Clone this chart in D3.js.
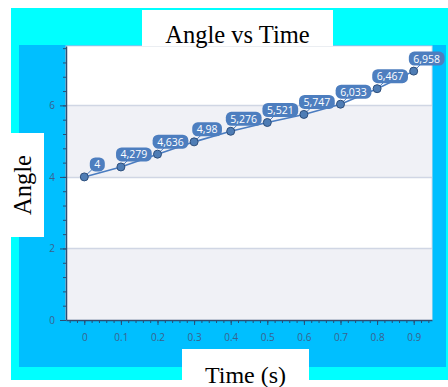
<!DOCTYPE html>
<html>
<head>
<meta charset="utf-8">
<script src="https://cdn.jsdelivr.net/npm/d3@7"></script>
<style>
  html, body { margin: 0; padding: 0; background: #ffffff; }
  svg { display: block; }
</style>
</head>
<body>
<svg id="chart" width="448" height="387"></svg>
<script>
// Measurements: angle over time
const times = [0, 0.1, 0.2, 0.3, 0.4, 0.5, 0.6, 0.7, 0.8, 0.9];
const angles = [4, 4.279, 4.636, 4.98, 5.276, 5.521, 5.747, 6.033, 6.467, 6.958];
const xTicks = [0, 0.1, 0.2, 0.3, 0.4, 0.5, 0.6, 0.7, 0.8, 0.9];
const yTicks = [0, 2, 4, 6];

const svg = d3.select("#chart");
const plot = { left: 66, right: 432, top: 46, bottom: 320 };

// frame backgrounds
svg.append("rect").attr("x", 11).attr("y", 8).attr("width", 437).attr("height", 372).attr("fill", "#00ffff");
svg.append("rect").attr("x", 19).attr("y", 45).attr("width", 427).attr("height", 322).attr("fill", "#00bfff");

const x = d3.scaleLinear().domain([-0.05, 0.95]).range([plot.left, plot.right]);
const y = d3.scaleLinear().domain([0, 7.66]).range([plot.bottom, plot.top]);

// plot area
svg.append("rect").attr("x", plot.left).attr("y", plot.top)
  .attr("width", plot.right - plot.left).attr("height", plot.bottom - plot.top)
  .attr("fill", "#ffffff").attr("stroke", "#d8dde6").attr("stroke-width", 1);

// alternating bands
const bands = [[0, 2], [4, 6]];
svg.append("g").selectAll("rect").data(bands).join("rect")
  .attr("x", plot.left + 0.5).attr("width", plot.right - plot.left - 1)
  .attr("y", d => y(d[1])).attr("height", d => y(d[0]) - y(d[1]))
  .attr("fill", "#f0f1f6");

// grid lines
svg.append("g").selectAll("line").data(yTicks.filter(v => v > 0)).join("line")
  .attr("x1", plot.left).attr("x2", plot.right)
  .attr("y1", d => Math.round(y(d)) + 0.5).attr("y2", d => Math.round(y(d)) + 0.5)
  .attr("stroke", "#d0d6e4").attr("stroke-width", 1.3);

const axisColor = "#2c4d73";
const labelColor = "#3a628e";
const tickFont = "'Open Sans', 'Noto Sans', sans-serif";

// minor ticks
const yMinor = d3.range(0, 7.66, 0.4);
svg.append("g").attr("transform", `translate(${plot.left},0)`)
  .call(d3.axisLeft(y).tickValues(yMinor).tickSize(3).tickFormat(""))
  .call(g => g.select(".domain").remove())
  .selectAll("line").attr("stroke", axisColor);
const xMinor = d3.range(-0.04, 0.95, 0.02);
svg.append("g").attr("transform", `translate(0,${plot.bottom})`)
  .call(d3.axisBottom(x).tickValues(xMinor).tickSize(3).tickFormat(""))
  .call(g => g.select(".domain").remove())
  .selectAll("line").attr("stroke", axisColor);

// y axis
const yAxis = svg.append("g").attr("transform", `translate(${plot.left},0)`)
  .call(d3.axisLeft(y).tickValues(yTicks).tickSize(6).tickSizeOuter(0).tickPadding(5).tickFormat(d3.format("d")));
yAxis.select(".domain").attr("stroke", axisColor).attr("stroke-width", 1.5);
yAxis.selectAll(".tick line").attr("stroke", axisColor);
yAxis.selectAll("text").attr("fill", labelColor).attr("font-family", tickFont).attr("font-size", 10);

// x axis
const fmtX = v => v === 0 ? "0" : d3.format(".1f")(v);
const xAxis = svg.append("g").attr("transform", `translate(0,${plot.bottom})`)
  .call(d3.axisBottom(x).tickValues(xTicks).tickSize(5).tickSizeOuter(0).tickPadding(9).tickFormat(fmtX));
xAxis.select(".domain").attr("stroke", axisColor).attr("stroke-width", 1.5);
xAxis.selectAll(".tick line").attr("stroke", axisColor);
xAxis.selectAll("text").attr("fill", labelColor).attr("font-family", tickFont).attr("font-size", 10);

// series
const pts = times.map((t, i) => ({ t, v: angles[i] }));
const seriesColor = "#4a7cc0";
svg.append("path").datum(pts)
  .attr("fill", "none").attr("stroke", seriesColor).attr("stroke-width", 1.6)
  .attr("d", d3.line().x(d => x(d.t)).y(d => y(d.v)));

// data labels with leader lines
const fmtVal = v => d3.format(",")(v).replace(".", ",");
const lbl = svg.append("g");
pts.forEach(d => {
  const px = x(d.t), py = y(d.v);
  const cx = px + 13, cy = py - 12.5;
  const g = lbl.append("g");
  g.append("line").attr("x1", px).attr("y1", py).attr("x2", cx).attr("y2", cy)
    .attr("stroke", seriesColor).attr("stroke-width", 1);
  const text = g.append("text").attr("x", cx).attr("y", cy + 4)
    .attr("text-anchor", "middle").attr("fill", "#ffffff")
    .attr("font-family", tickFont).attr("font-size", 10.5).text(fmtVal(d.v));
  const w = text.node().getComputedTextLength() + 9;
  g.insert("rect", "text").attr("x", cx - w / 2).attr("y", cy - 7)
    .attr("width", w).attr("height", 14).attr("rx", 5.5).attr("ry", 5.5)
    .attr("fill", "#4d7ebf");
});

// markers
svg.append("g").selectAll("circle").data(pts).join("circle")
  .attr("cx", d => x(d.t)).attr("cy", d => y(d.v)).attr("r", 4)
  .attr("fill", "#4f7db5").attr("stroke", "#2e4f7c").attr("stroke-width", 1);

// title and axis titles on white boxes
const serif = "'Liberation Serif', 'DejaVu Serif', serif";
svg.append("rect").attr("x", 142).attr("y", 10).attr("width", 191).attr("height", 36).attr("fill", "#ffffff");
svg.append("text").attr("x", 237.5).attr("y", 43).attr("text-anchor", "middle")
  .attr("font-family", serif).attr("font-size", 24.5).attr("fill", "#000").text("Angle vs Time");

svg.append("rect").attr("x", 11).attr("y", 133).attr("width", 33).attr("height", 104).attr("fill", "#ffffff");
svg.append("text").attr("transform", "translate(31,185) rotate(-90)").attr("text-anchor", "middle")
  .attr("font-family", serif).attr("font-size", 24.5).attr("fill", "#000").text("Angle");

svg.append("rect").attr("x", 182).attr("y", 349).attr("width", 127).attr("height", 38).attr("fill", "#ffffff");
svg.append("text").attr("x", 245.5).attr("y", 383).attr("text-anchor", "middle")
  .attr("font-family", serif).attr("font-size", 24).attr("fill", "#000").text("Time (s)");
</script>
</body>
</html>
